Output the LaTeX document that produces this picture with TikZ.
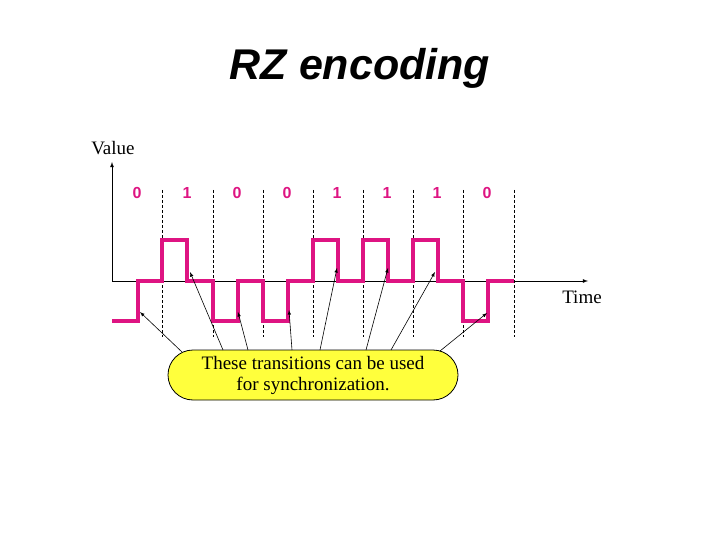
\documentclass[tikz,border=0pt]{standalone}
\usepackage{fontspec}
\setmainfont{Liberation Serif}
\newfontfamily\sansf{Liberation Sans}
\begin{document}
\begin{tikzpicture}[x=1pt,y=-1pt,
  wave/.style={line width=3.5pt,draw={rgb,255:red,222;green,20;blue,130},line join=miter},
  grid/.style={densely dashed,line width=0.7pt},
  bit/.style={font=\sansf\bfseries\fontsize{16}{18}\selectfont,text={rgb,255:red,222;green,20;blue,130}},
  ptr/.style={-latex,line width=0.6pt},
  lbl/.style={font=\fontsize{19}{21}\selectfont}]
\useasboundingbox (0,0) rectangle (720,540);
\node[font=\sansf\bfseries\itshape\fontsize{43}{48}\selectfont] (title) at (360,68) {RZ encoding};
\foreach \x in {162,213,263,313,363,413,463,514} \draw[grid] (\x,190) -- (\x,337);
\draw[-latex,line width=0.8pt] (112,281) -- (112,162);
\draw[-latex,line width=0.8pt] (112,281) -- (588,281);
\node[lbl] (value) at (113,148) {Value};
\node[lbl] (time) at (582,297) {Time};
\foreach \b [count=\i] in {0,1,0,0,1,1,1,0} \node[bit] (b\i) at (87+50*\i,193) {\b};
\draw[wave] (112,321) -- (138,321) -- (138,281) -- (162,281) -- (162,240) -- (187,240) -- (187,281) -- (213,281) -- (213,321) -- (238,321) -- (238,281) -- (263,281) -- (263,321) -- (288,321) -- (288,281) -- (313,281) -- (313,240) -- (338,240) -- (338,281) -- (363,281) -- (363,240) -- (388,240) -- (388,281) -- (413,281) -- (413,240) -- (438,240) -- (438,281) -- (463,281) -- (463,321) -- (488,321) -- (488,281) -- (514,281);
\node[draw,line width=0.8pt,fill={rgb,255:red,255;green,255;blue,60},rounded corners=25pt,minimum width=290pt,minimum height=50pt,align=center,font=\fontsize{19}{21}\selectfont] (box) at (313,375) {These transitions can be used\\for synchronization.};
\coordinate (t1) at (140,312); \coordinate (t2) at (190,272);
\coordinate (t3) at (238,312); \coordinate (t4) at (289,310);
\coordinate (t5) at (337,268); \coordinate (t6) at (388,268);
\coordinate (t7) at (435,272); \coordinate (t8) at (487,313);
\draw[ptr] (182,352) -- (t1);
\draw[ptr] (223,350) -- (t2);
\draw[ptr] (248,350) -- (t3);
\draw[ptr] (292,350) -- (t4);
\draw[ptr] (320,350) -- (t5);
\draw[ptr] (366,350) -- (t6);
\draw[ptr] (391,350) -- (t7);
\draw[ptr] (440,351) -- (t8);
\end{tikzpicture}
\end{document}
